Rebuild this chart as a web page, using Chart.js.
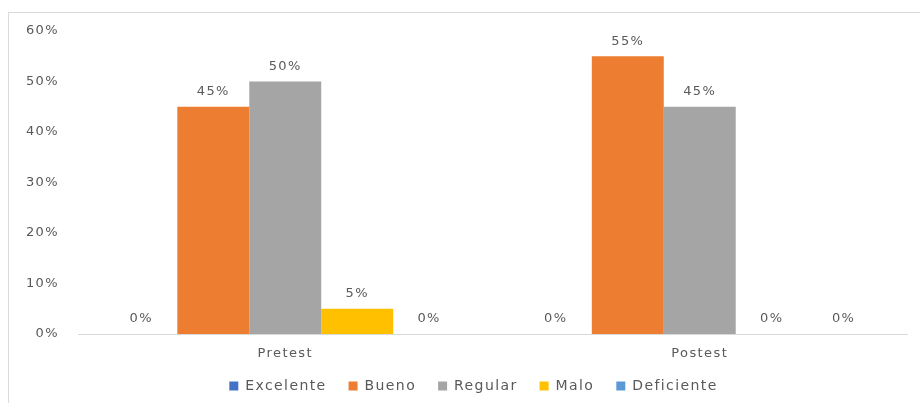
<!DOCTYPE html>
<html>
<head>
<meta charset="utf-8">
<script src="https://cdn.jsdelivr.net/npm/chart.js@4"></script>
<style>
  html, body { margin: 0; padding: 0; background: #fff; }
  #wrap { position: relative; width: 920px; height: 403px; overflow: hidden; }
  #frame {
    position: absolute; left: 8px; top: 12px; right: 0; bottom: 0;
    border-left: 1px solid #d9d9d9; border-top: 1px solid #d9d9d9;
    pointer-events: none;
  }
  canvas { position: absolute; left: 0; top: 0; }
</style>
</head>
<body>
<div id="wrap">
  <canvas id="chart" width="920" height="403"></canvas>
  <div id="frame"></div>
</div>
<script>
// Data
const categories = ['Pretest', 'Postest'];
const seriesNames = ['Excelente', 'Bueno', 'Regular', 'Malo', 'Deficiente'];
const excelente = [0, 0];
const bueno = [45, 55];
const regular = [50, 45];
const malo = [5, 0];
const deficiente = [0, 0];
const yMax = 60;
const yStep = 10;

const seriesValues = [excelente, bueno, regular, malo, deficiente];
const seriesColors = ['#4472C4', '#ED7D31', '#A5A5A5', '#FFC000', '#5B9BD5'];
const textColor = '#595959';
const spacing = '1.4px';

Chart.defaults.font.family = '"DejaVu Sans", sans-serif';
Chart.defaults.font.size = 13;
Chart.defaults.color = textColor;

// Wider letter spacing for all canvas text
const letterSpacing = {
  id: 'letterSpacing',
  beforeLayout(chart) { chart.ctx.letterSpacing = spacing; },
  beforeDraw(chart) { chart.ctx.letterSpacing = spacing; }
};

// Nudge the legend a little to the right
const legendShift = {
  id: 'legendShift',
  afterLayout(chart) {
    chart.legend.left += 20;
    chart.legend.right += 20;
  }
};

// Value labels above each bar
const valueLabels = {
  id: 'valueLabels',
  afterDatasetsDraw(chart) {
    const ctx = chart.ctx;
    ctx.save();
    ctx.letterSpacing = spacing;
    ctx.font = '13px "DejaVu Sans", sans-serif';
    ctx.fillStyle = textColor;
    ctx.textAlign = 'center';
    ctx.textBaseline = 'middle';
    chart.data.datasets.forEach((ds, i) => {
      chart.getDatasetMeta(i).data.forEach((bar, j) => {
        ctx.fillText(ds.data[j] + '%', bar.x, bar.y - 15);
      });
    });
    ctx.restore();
  }
};

const datasets = seriesNames.map((name, i) => ({
  label: name,
  data: seriesValues[i],
  backgroundColor: seriesColors[i],
  borderWidth: 0,
  categoryPercentage: 0.868,
  barPercentage: 1
}));

new Chart(document.getElementById('chart'), {
  type: 'bar',
  data: { labels: categories, datasets },
  options: {
    responsive: false,
    animation: false,
    layout: { padding: { top: 31, right: 13, left: 0, bottom: 0 } },
    plugins: {
      tooltip: { enabled: false },
      legend: {
        position: 'bottom',
        labels: {
          boxWidth: 9,
          boxHeight: 9,
          padding: 22,
          font: { size: 14 },
          color: textColor
        }
      }
    },
    scales: {
      x: {
        grid: { display: false, drawTicks: false },
        border: { display: true, color: '#d9d9d9', width: 1 },
        ticks: { padding: 12, font: { size: 13 } },
        afterFit(scale) { scale.height = 23; }
      },
      y: {
        min: 0,
        max: yMax,
        grid: { display: false, drawTicks: false },
        border: { display: false },
        ticks: {
          stepSize: yStep,
          padding: 19,
          font: { size: 13 },
          callback: v => v + '%'
        },
        afterFit(scale) { scale.width = 78; }
      }
    }
  },
  plugins: [letterSpacing, legendShift, valueLabels]
});
</script>
</body>
</html>
